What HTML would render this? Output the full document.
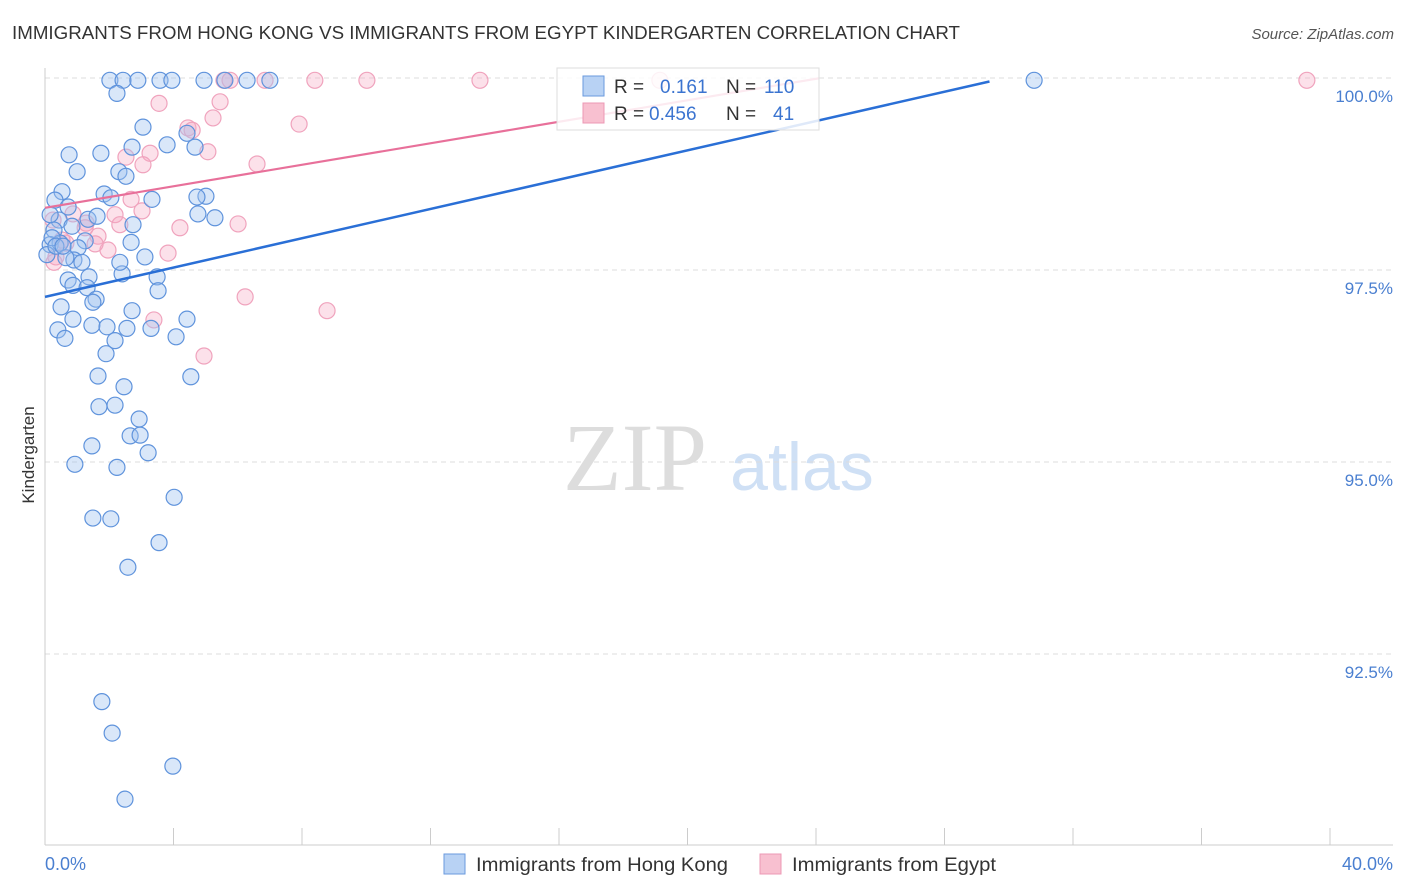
<!DOCTYPE html>
<html><head><meta charset="utf-8"><style>
body{margin:0;background:#fff;font-family:"Liberation Sans",sans-serif;}
svg{display:block}
</style></head><body>
<svg id="chart" width="1406" height="892">
<text x="12" y="39" font-size="18" fill="#333" textLength="948" lengthAdjust="spacingAndGlyphs">IMMIGRANTS FROM HONG KONG VS IMMIGRANTS FROM EGYPT KINDERGARTEN CORRELATION CHART</text>
<text x="1394" y="39" font-size="15" fill="#555" font-style="italic" text-anchor="end">Source: ZipAtlas.com</text>
<text x="34" y="455" font-size="17" fill="#333" text-anchor="middle" transform="rotate(-90 34 455)">Kindergarten</text>
<g>
<text x="635" y="490" font-size="96" fill="#ddd" font-family="Liberation Serif,serif" text-anchor="middle">ZIP</text>
<text x="802" y="490" font-size="68" fill="#cfe0f5" text-anchor="middle">atlas</text>
</g>
<g id="grid"></g><g id="axes"></g><g id="pts"></g><g id="trend"></g>
<g>
<rect x="557" y="68" width="262" height="62" fill="#fff" fill-opacity="0.85" stroke="#ddd"/>
<rect x="583" y="76" width="21" height="20" fill="#b8d2f4" stroke="#6a9ade"/>
<rect x="583" y="103" width="21" height="20" fill="#f8c0d0" stroke="#ec98b5"/>
<text x="614" y="93" font-size="19" fill="#333">R = </text><text x="660" y="93" font-size="19" fill="#3b74d0">0.161</text>
<text x="726" y="93" font-size="19" fill="#333">N = </text><text x="764" y="93" font-size="19" fill="#3b74d0">110</text>
<text x="614" y="120" font-size="19" fill="#333">R = </text><text x="649" y="120" font-size="19" fill="#3b74d0">0.456</text>
<text x="726" y="120" font-size="19" fill="#333">N = </text><text x="773" y="120" font-size="19" fill="#3b74d0">41</text>
</g>
<g>
<rect x="444" y="854" width="21" height="20" fill="#b8d2f4" stroke="#6a9ade"/>
<text x="476" y="871" font-size="19" fill="#333" textLength="252" lengthAdjust="spacingAndGlyphs">Immigrants from Hong Kong</text>
<rect x="760" y="854" width="21" height="20" fill="#f8c0d0" stroke="#ec98b5"/>
<text x="792" y="871" font-size="19" fill="#333" textLength="204" lengthAdjust="spacingAndGlyphs">Immigrants from Egypt</text>
</g>
</svg>
<script>
const yTicks=[100,97.5,95,92.5];
const yTickLabels=["100.0%","97.5%","95.0%","92.5%"];
const xTicks=[0,4,8,12,16,20,24,28,32,36,40];
const xEndLabels=["0.0%","40.0%"];
const hkX=[2.02,2.43,2.89,3.58,3.95,4.95,5.60,6.29,7.00,30.79,2.24,3.05,4.42,0.75,1.74,3.80,4.67,2.71,1.00,2.30,2.52,0.53,1.84,2.05,3.33,5.01,4.73,0.31,0.72,4.76,5.29,0.44,1.34,1.62,2.74,0.84,0.28,2.68,1.25,0.16,0.47,1.03,3.11,0.90,1.15,2.40,3.49,0.72,0.87,1.37,1.31,3.52,1.59,1.49,0.50,2.71,4.42,0.87,1.46,1.93,2.55,3.30,0.40,0.62,2.18,4.08,1.90,1.65,4.54,2.46,1.68,2.18,2.93,2.65,2.96,1.46,3.21,0.93,2.24,4.02,1.49,2.05,3.55,2.58,1.77,2.09,3.98,2.49,0.16,0.22,0.06,0.34,0.65,2.33,0.56];
const hkY=[99.97,99.97,99.97,99.97,99.97,99.97,99.97,99.97,99.97,99.97,99.80,99.36,99.28,99.00,99.02,99.13,99.10,99.10,98.78,98.78,98.72,98.52,98.49,98.44,98.42,98.46,98.45,98.41,98.32,98.23,98.18,98.15,98.16,98.20,98.09,98.07,98.02,97.86,97.88,97.83,97.85,97.79,97.67,97.63,97.60,97.45,97.41,97.37,97.30,97.41,97.27,97.23,97.12,97.08,97.02,96.97,96.86,96.86,96.78,96.76,96.74,96.74,96.72,96.61,96.58,96.63,96.41,96.12,96.11,95.98,95.72,95.74,95.56,95.34,95.35,95.21,95.12,94.97,94.93,94.54,94.27,94.26,93.95,93.63,91.88,91.47,91.04,90.61,98.22,97.92,97.70,97.81,97.66,97.60,97.81];
const egX=[5.57,5.76,6.85,8.40,10.02,13.54,19.14,39.28,3.55,5.45,5.23,4.45,4.58,7.91,3.27,2.52,5.07,3.05,6.60,2.68,3.02,2.18,1.28,4.20,6.01,0.25,1.65,0.65,1.96,3.83,0.34,0.28,6.23,8.78,3.39,4.95,1.25,0.53,0.87,2.33,1.56];
const egY=[99.97,99.97,99.97,99.97,99.97,99.97,99.97,99.97,99.67,99.69,99.48,99.35,99.32,99.40,99.02,98.97,99.04,98.87,98.88,98.42,98.27,98.22,98.11,98.05,98.10,98.15,97.94,97.85,97.76,97.72,97.67,97.60,97.15,96.97,96.85,96.38,98.05,97.89,98.23,98.09,97.84];
const hkTrend=[97.15,0.0954];   // intercept, slope
const egTrend=[98.31,0.0700];
const hkTrendEnd=29.4, egTrendEnd=24.1;

const X0=45,X1=1330,Y100=78,PXY=76.8;
const sx=v=>X0+(v/40)*(X1-X0);
const sy=v=>Y100+(100-v)*PXY;
const NS="http://www.w3.org/2000/svg";
function mk(tag,attrs,parent){const e=document.createElementNS(NS,tag);for(const k in attrs)e.setAttribute(k,attrs[k]);parent.appendChild(e);return e;}
const grid=document.getElementById('grid'),axes=document.getElementById('axes'),pts=document.getElementById('pts'),trend=document.getElementById('trend');
yTicks.forEach((t,i)=>{
  const l=mk('line',{x1:X0,x2:1393,y1:sy(t),y2:sy(t),stroke:'#ddd','stroke-dasharray':'5,4'},grid);
  
  
  const tx=mk('text',{x:1393,y:sy(t)+24,'font-size':17,fill:'#4a7fd0','text-anchor':'end'},grid);
  tx.textContent=yTickLabels[i];
  
  
});
const ya=mk('line',{x1:X0,x2:X0,y1:68,y2:845,stroke:'#ccc'},axes);


const xa=mk('line',{x1:X0,x2:1393,y1:845,y2:845,stroke:'#ccc'},axes);


xTicks.forEach(t=>{
  const l=mk('line',{x1:sx(t),x2:sx(t),y1:828,y2:845,stroke:'#ccc'},axes);
  
  
});
const xl0=mk('text',{x:45,y:870,'font-size':18,fill:'#4a7fd0'},axes);xl0.textContent=xEndLabels[0];


const xl1=mk('text',{x:1393,y:870,'font-size':18,fill:'#4a7fd0','text-anchor':'end'},axes);xl1.textContent=xEndLabels[1];


egX.forEach((x,i)=>{
  const c=mk('circle',{cx:sx(x),cy:sy(egY[i]),r:8,fill:'rgba(246,170,195,0.35)',stroke:'#f0a3bd','stroke-width':1.2},pts);
  
  
});
hkX.forEach((x,i)=>{
  const c=mk('circle',{cx:sx(x),cy:sy(hkY[i]),r:8,fill:'rgba(160,196,240,0.4)',stroke:'#5f93dc','stroke-width':1.2},pts);
  
  
});
const t1=mk('line',{x1:sx(0),y1:sy(hkTrend[0]),x2:sx(hkTrendEnd),y2:sy(hkTrend[0]+hkTrend[1]*hkTrendEnd),stroke:'#2a6fd6','stroke-width':2.5},trend);


const t2=mk('line',{x1:sx(0),y1:sy(egTrend[0]),x2:sx(egTrendEnd),y2:sy(egTrend[0]+egTrend[1]*egTrendEnd),stroke:'#e8709a','stroke-width':2.2},trend);


</script>
</body></html>
